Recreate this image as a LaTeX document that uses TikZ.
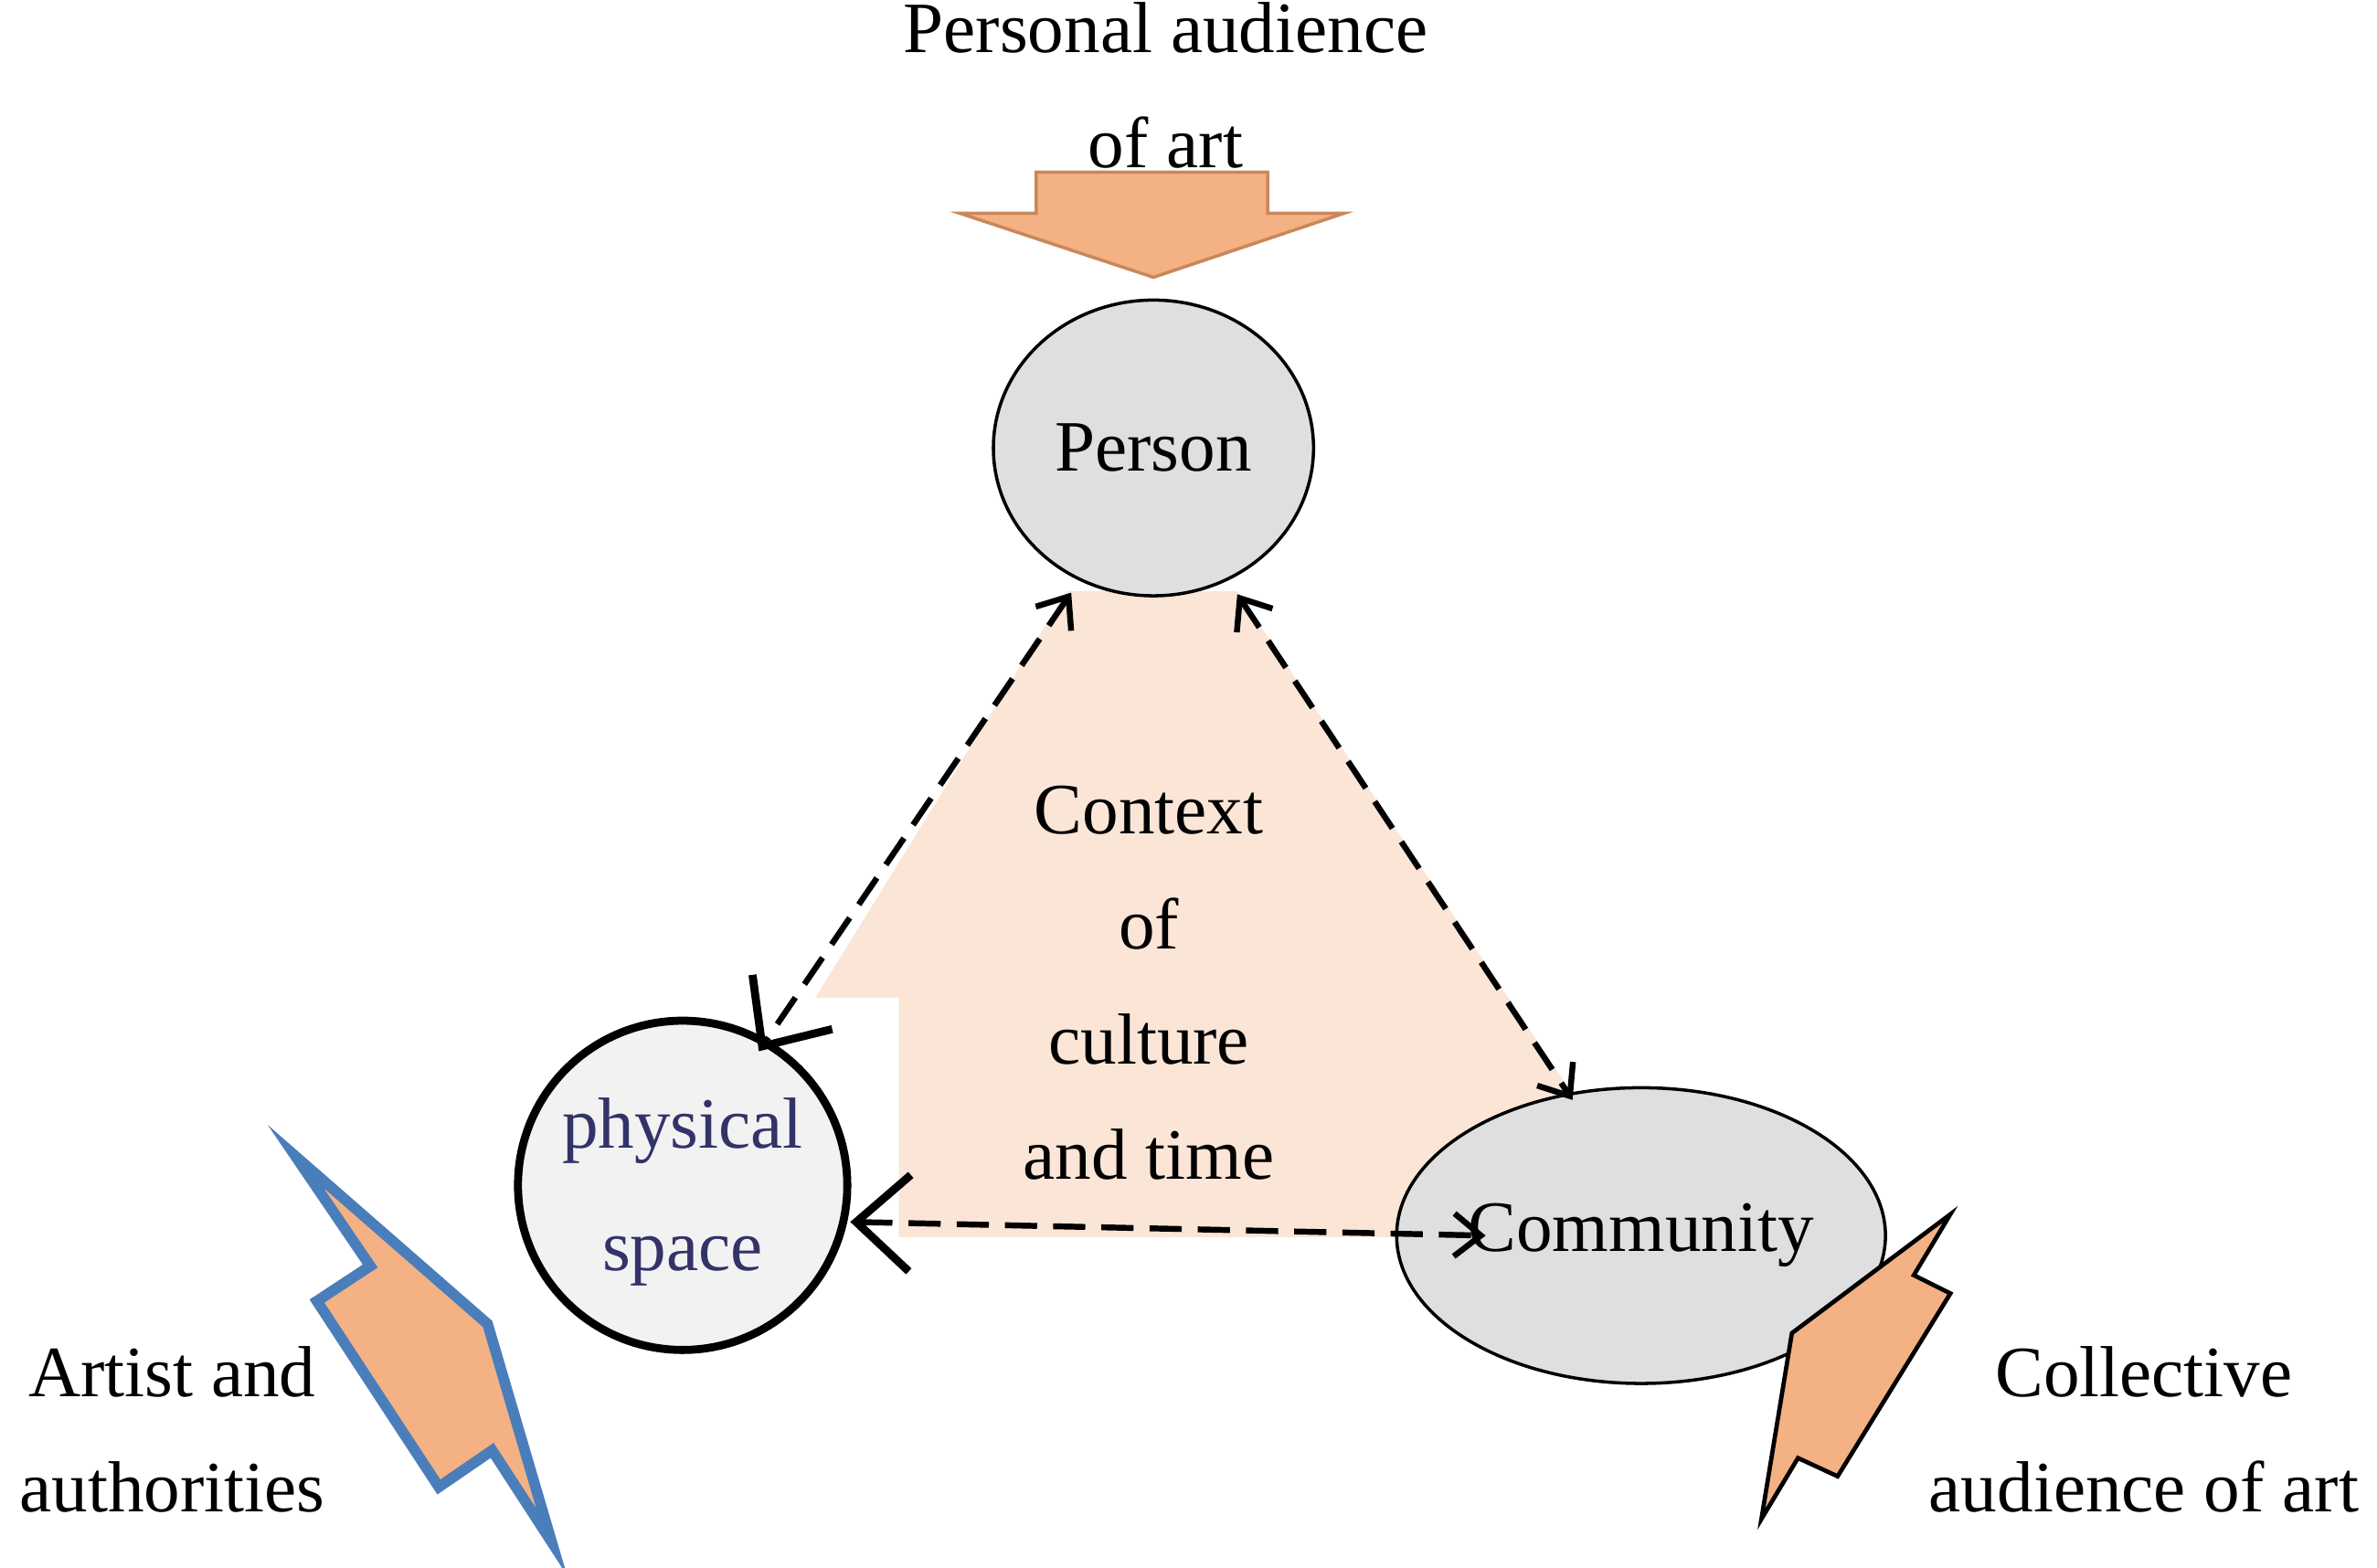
\documentclass[tikz,border=0pt]{standalone}
\usepackage{fontspec}
\setmainfont{Liberation Serif}
\usetikzlibrary{arrows.meta,shapes.geometric}
\definecolor{peach}{HTML}{FBE5D6}
\definecolor{org}{HTML}{F4B183}
\definecolor{orgd}{HTML}{C9875A}
\definecolor{blu}{HTML}{4A7EBB}
\begin{document}
\begin{tikzpicture}[x=0.01cm,y=-0.01cm,
  txt/.style={font=\fontsize{13.5}{15.5}\selectfont,align=center,inner sep=0},
  circ/.style={draw=black,line width=0.6pt,fill=gray!25,ellipse,minimum width=2.1cm,minimum height=1.94cm,txt},
  dsh/.style={line width=1.1pt,dash pattern=on 6pt off 3pt}]
\useasboundingbox (0,0) rectangle (1560,1029);
% shaded triangle
\fill[peach] (700,388)--(812,388)--(1030,715)--(972,812)--(590,812)--(590,655)--(535,655)--cycle;
% top arrow
\draw[orgd,fill=org,line width=0.6pt] (680,113)--(832,113)--(832,140)--(882,140)--(757,182)--(630,140)--(680,140)--cycle;
\node[txt] (t1) at (765,56) {Personal audience\\[6pt]of art};
% circles
\node[circ] (person) at (757,294) {Person};
\node[circ] (comm) at (1077,811) {Community};
\node[draw,circle,fill=gray!10,line width=1.5pt,minimum size=2.16cm] (phys) at (448,778) {};
\node[txt,text=black!65!blue!60!gray] (ph1) at (448,742) {physical};
\node[txt,text=black!65!blue!60!gray] (ph2) at (448,828) {space};
% context text
\node[txt] (ctx) at (754,645) {Context\\[6pt]of\\[6pt]culture\\[6pt]and time};
% connectors
\coordinate (a1) at (703,389); \coordinate (a2) at (498,690);
\coordinate (b1) at (812,390); \coordinate (b2) at (1032,722);
\coordinate (c1) at (558,802); \coordinate (c2) at (975,811);
\draw[dsh,{Straight Barb[length=5pt,width=8pt]}-{Straight Barb[length=10pt,width=18pt,line width=1.5pt]}] (a1)--(a2);
\draw[dsh,{Straight Barb[length=5pt,width=8pt]}-{Straight Barb[length=5pt,width=8pt]}] (b1)--(b2);
\draw[dsh,{Straight Barb[length=10pt,width=18pt,line width=1.5pt]}-{Straight Barb[length=5pt,width=8pt]}] (c1)--(c2);
% lightning arrows
\draw[blu,fill=org,line width=2pt,line join=miter] (194,759)--(320,869)--(362,1012)--(323,952)--(288,976)--(208,854)--(243,831)--cycle;
\draw[black,fill=org,line width=0.8pt] (1280,797)--(1256,837)--(1280,849)--(1206,969)--(1180,957)--(1156,997)--(1176,875)--cycle;
\node[txt] (art) at (113,938) {Artist and\\[6pt]authorities};
\node[txt] (coll) at (1407,938) {Collective\\[6pt]audience of art};
\end{tikzpicture}
\end{document}
